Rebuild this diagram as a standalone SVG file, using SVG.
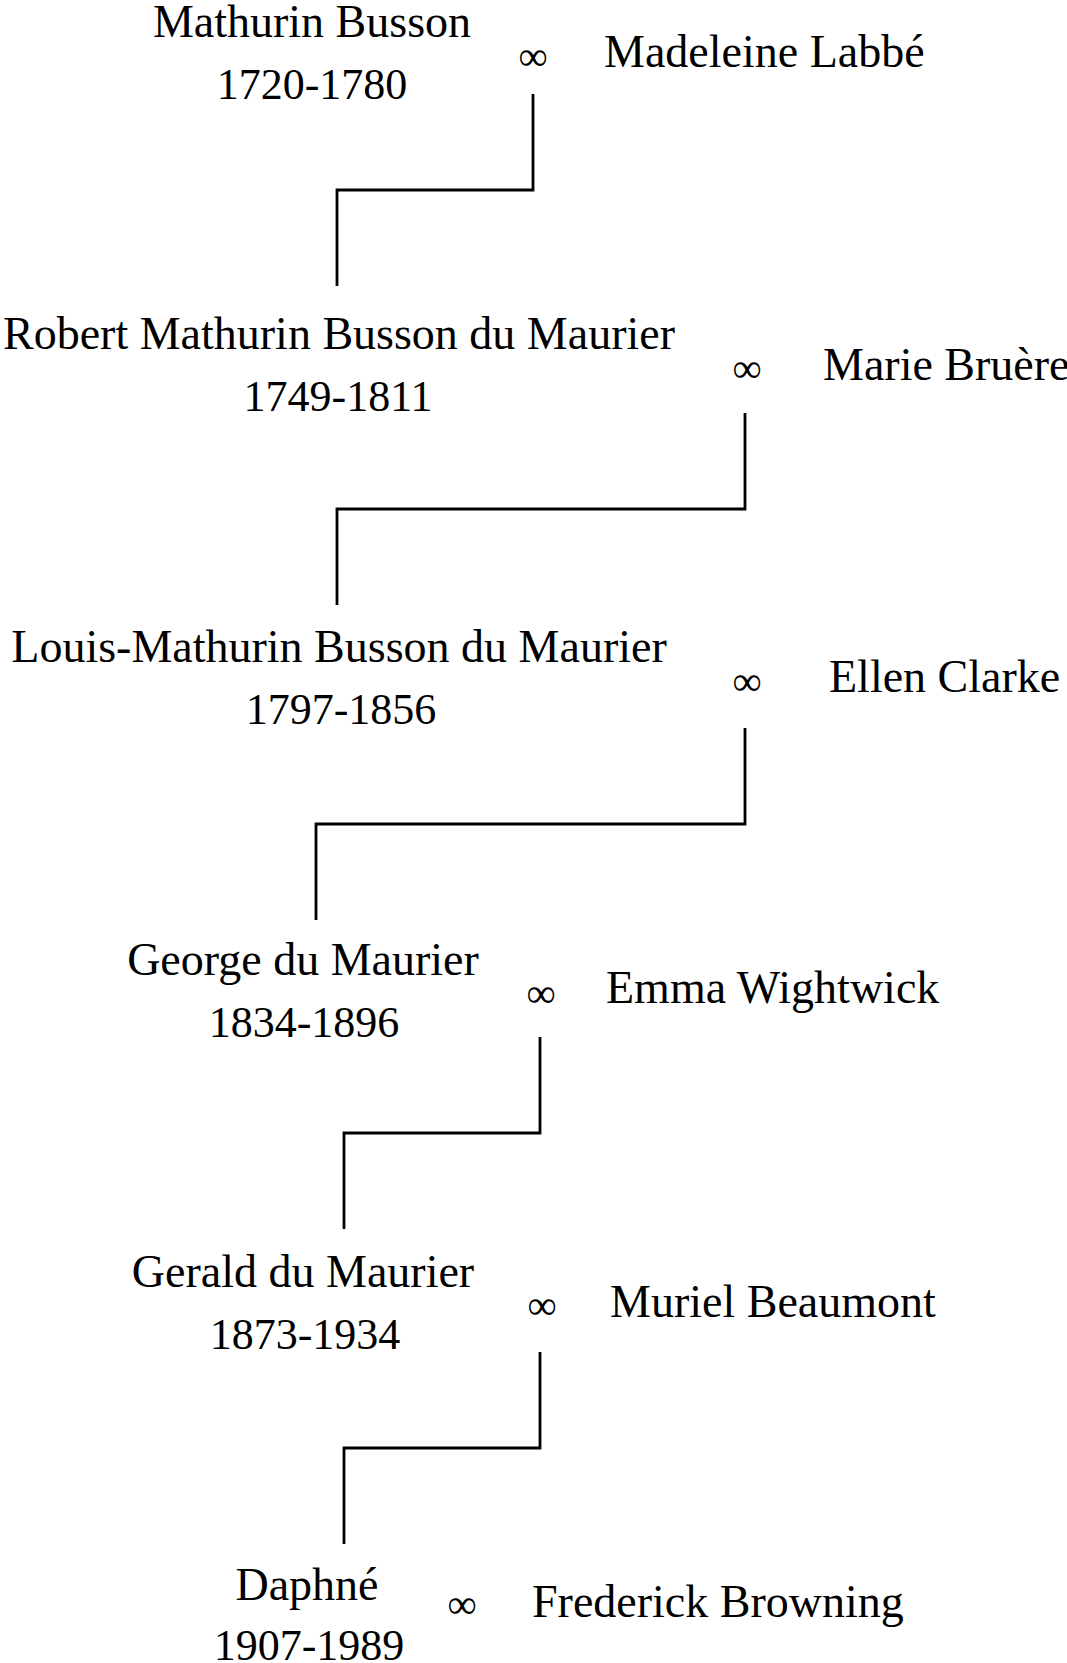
<svg xmlns="http://www.w3.org/2000/svg" width="1067" height="1663" viewBox="0 0 1067 1663">
<style>
.t{font-family:"Liberation Serif","Times New Roman",serif;font-size:46px;fill:#000}
.d{font-size:44px}
.c{text-anchor:middle}
.inf{font-family:"Liberation Serif","Times New Roman",serif;font-size:41px;fill:#000;text-anchor:middle}
.ln{fill:none;stroke:#000;stroke-width:2.8}
</style>
<rect width="1067" height="1663" fill="#fff"/>
<g id="connectors">
<polyline class="ln" points="533,94 533,190 337,190 337,286"/>
<polyline class="ln" points="745,413 745,509 337,509 337,605"/>
<polyline class="ln" points="745,728 745,824 316,824 316,920"/>
<polyline class="ln" points="540,1037 540,1133 344,1133 344,1229"/>
<polyline class="ln" points="540,1352 540,1448 344,1448 344,1544"/>
</g>
<g id="mathurin-busson"><text class="t c" x="312" y="37">Mathurin Busson</text><text class="t c d" x="312" y="99">1720-1780</text></g>
<g id="marriage-1"><text class="inf" x="533" y="70">∞</text></g>
<g id="madeleine-labbe"><text class="t" x="604" y="67">Madeleine Labbé</text></g>
<g id="robert-mathurin"><text class="t c" x="339" y="349">Robert Mathurin Busson du Maurier</text><text class="t c d" x="338" y="411">1749-1811</text></g>
<g id="marriage-2"><text class="inf" x="747" y="382">∞</text></g>
<g id="marie-bruere"><text class="t" x="823" y="380">Marie Bruère</text></g>
<g id="louis-mathurin"><text class="t c" x="339" y="662">Louis-Mathurin Busson du Maurier</text><text class="t c d" x="341" y="724">1797-1856</text></g>
<g id="marriage-3"><text class="inf" x="747" y="695">∞</text></g>
<g id="ellen-clarke"><text class="t" x="829" y="692">Ellen Clarke</text></g>
<g id="george-du-maurier"><text class="t c" x="303" y="975">George du Maurier</text><text class="t c d" x="304" y="1037">1834-1896</text></g>
<g id="marriage-4"><text class="inf" x="541" y="1007">∞</text></g>
<g id="emma-wightwick"><text class="t" x="606" y="1003">Emma Wightwick</text></g>
<g id="gerald-du-maurier"><text class="t c" x="303" y="1287">Gerald du Maurier</text><text class="t c d" x="305" y="1349">1873-1934</text></g>
<g id="marriage-5"><text class="inf" x="542" y="1319">∞</text></g>
<g id="muriel-beaumont"><text class="t" x="610" y="1317">Muriel Beaumont</text></g>
<g id="daphne"><text class="t c" x="307" y="1600">Daphné</text><text class="t c d" x="309" y="1660">1907-1989</text></g>
<g id="marriage-6"><text class="inf" x="462" y="1618">∞</text></g>
<g id="frederick-browning"><text class="t" x="532" y="1617">Frederick Browning</text></g>
</svg>
